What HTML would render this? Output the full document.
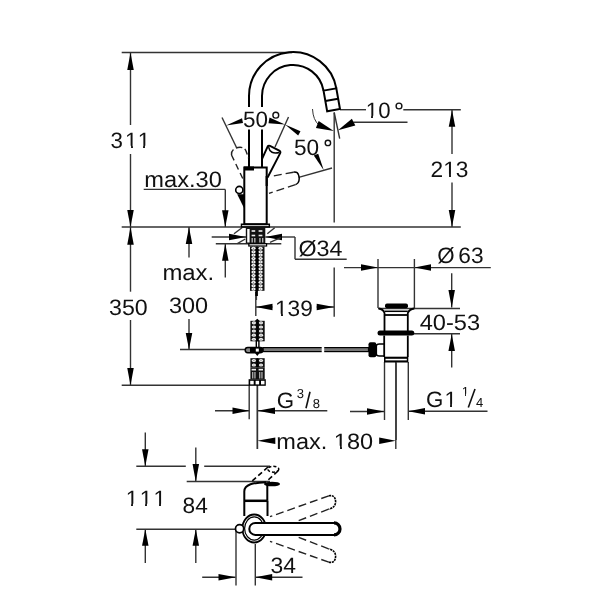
<!DOCTYPE html>
<html><head><meta charset="utf-8"><style>
html,body{margin:0;padding:0;background:#fff;width:600px;height:600px;overflow:hidden}
svg{display:block;will-change:transform;filter:blur(0.3px)}
text{font-family:"Liberation Sans",sans-serif;fill:#111;text-rendering:geometricPrecision}
</style></head><body>
<svg width="600" height="600" viewBox="0 0 600 600">
<line x1="121.7" y1="52.5" x2="292" y2="52.5" stroke="#333" stroke-width="1.4" />
<line x1="130.5" y1="52.5" x2="130.5" y2="125" stroke="#333" stroke-width="1.4" />
<polygon points="130.50,52.50 127.25,70.00 133.75,70.00" fill="#000"/>
<text x="110.6" y="148.1" font-size="22.3" textLength="39.45" lengthAdjust="spacing">311</text>
<line x1="130.5" y1="154" x2="130.5" y2="227" stroke="#333" stroke-width="1.4" />
<polygon points="130.50,227.00 133.75,210.00 127.25,210.00" fill="#000"/>
<line x1="121.7" y1="227" x2="460.8" y2="227" stroke="#333" stroke-width="1.4" />
<line x1="130.5" y1="227" x2="130.5" y2="291.7" stroke="#333" stroke-width="1.4" />
<polygon points="130.50,227.00 127.25,244.70 133.75,244.70" fill="#000"/>
<text x="109.0" y="314.8" font-size="22.3" textLength="38.69" lengthAdjust="spacingAndGlyphs">350</text>
<line x1="130.5" y1="320" x2="130.5" y2="385.3" stroke="#333" stroke-width="1.4" />
<polygon points="130.50,385.30 133.75,368.00 127.25,368.00" fill="#000"/>
<line x1="121.7" y1="385.3" x2="249" y2="385.3" stroke="#333" stroke-width="1.4" />
<line x1="189" y1="227" x2="189" y2="257.5" stroke="#333" stroke-width="1.4" />
<polygon points="189.00,227.00 185.75,244.00 192.25,244.00" fill="#000"/>
<text x="162.4" y="279.9" font-size="22.3" textLength="51.84" lengthAdjust="spacingAndGlyphs">max.</text>
<text x="168.9" y="313.1" font-size="22.3" textLength="39.12" lengthAdjust="spacingAndGlyphs">300</text>
<line x1="189" y1="319" x2="189" y2="349.5" stroke="#333" stroke-width="1.4" />
<polygon points="189.00,349.50 192.25,333.00 185.75,333.00" fill="#000"/>
<line x1="180" y1="349.5" x2="245" y2="349.5" stroke="#333" stroke-width="1.4" />
<text x="144.3" y="187.3" font-size="22.3" textLength="77.51" lengthAdjust="spacingAndGlyphs">max.30</text>
<line x1="143.7" y1="189.4" x2="225.3" y2="189.4" stroke="#333" stroke-width="1.4" />
<line x1="225.3" y1="189.4" x2="225.3" y2="227" stroke="#333" stroke-width="1.4" />
<polygon points="225.30,227.00 228.55,210.30 222.05,210.30" fill="#000"/>
<line x1="225.3" y1="243.7" x2="225.3" y2="277.5" stroke="#333" stroke-width="1.4" />
<polygon points="225.30,243.70 222.05,260.80 228.55,260.80" fill="#000"/>
<line x1="211.7" y1="237" x2="246" y2="237" stroke="#333" stroke-width="1.4" />
<polygon points="246.00,237.00 229.00,233.75 229.00,240.25" fill="#000"/>
<line x1="265.3" y1="237" x2="295" y2="237" stroke="#333" stroke-width="1.4" />
<polygon points="265.30,237.00 282.00,240.25 282.00,233.75" fill="#000"/>
<line x1="295" y1="237" x2="295" y2="259.2" stroke="#333" stroke-width="1.4" />
<line x1="295" y1="259.2" x2="346.7" y2="259.2" stroke="#333" stroke-width="1.4" />
<text x="298.5" y="255.6" font-size="22.3" textLength="44.01" lengthAdjust="spacingAndGlyphs">Ø34</text>
<line x1="215.8" y1="243.7" x2="281.3" y2="243.7" stroke="#333" stroke-width="1.4" />
<line x1="234" y1="233.7" x2="242" y2="227.7" stroke="#333" stroke-width="1.4" />
<line x1="237.3" y1="243.7" x2="245.3" y2="239" stroke="#333" stroke-width="1.4" />
<line x1="267.3" y1="233.7" x2="274.7" y2="227.7" stroke="#333" stroke-width="1.4" />
<line x1="270" y1="242.3" x2="280.7" y2="237.7" stroke="#333" stroke-width="1.4" />
<line x1="255.8" y1="292" x2="255.8" y2="316" stroke="#333" stroke-width="1.4" />
<line x1="334.2" y1="267.5" x2="334.2" y2="316.7" stroke="#333" stroke-width="1.4" />
<line x1="255.8" y1="307" x2="272.5" y2="307" stroke="#333" stroke-width="1.4" />
<line x1="316.7" y1="307" x2="334.2" y2="307" stroke="#333" stroke-width="1.4" />
<polygon points="255.80,307.00 272.50,310.25 272.50,303.75" fill="#000"/>
<polygon points="334.20,307.00 316.70,303.75 316.70,310.25" fill="#000"/>
<text x="275.0" y="315.6" font-size="22.3" textLength="37.86" lengthAdjust="spacingAndGlyphs">139</text>
<line x1="334.2" y1="112.5" x2="334.2" y2="222.5" stroke="#333" stroke-width="1.4" />
<line x1="334.2" y1="112.5" x2="339.7" y2="138.7" stroke="#333" stroke-width="1.4" />
<line x1="340" y1="109.7" x2="366" y2="109.7" stroke="#333" stroke-width="1.4" />
<line x1="403.3" y1="109.7" x2="460.8" y2="109.7" stroke="#333" stroke-width="1.4" />
<text x="365.8" y="117.8" font-size="22.3" textLength="24.7" lengthAdjust="spacingAndGlyphs">10</text>
<circle cx="399" cy="106" r="2.9" fill="none" stroke="#111" stroke-width="1.4"/>
<path d="M312.5,109 Q313,120 319,125" stroke="#333" stroke-width="1" fill="none" />
<polygon points="333.80,131.00 318.66,121.10 315.94,128.10" fill="#000"/>
<line x1="353.3" y1="122.2" x2="407.5" y2="122.2" stroke="#333" stroke-width="1.4" />
<polygon points="338.00,130.20 355.31,125.54 351.89,118.86" fill="#000"/>
<line x1="452" y1="110" x2="452" y2="154" stroke="#333" stroke-width="1.4" />
<polygon points="452.00,110.00 448.75,126.70 455.25,126.70" fill="#000"/>
<text x="430.6" y="176.5" font-size="22.3" textLength="37.84" lengthAdjust="spacingAndGlyphs">213</text>
<line x1="452" y1="182.5" x2="452" y2="227" stroke="#333" stroke-width="1.4" />
<polygon points="452.00,227.00 455.25,210.00 448.75,210.00" fill="#000"/>
<text x="437.25" y="263.1" font-size="22.3" >Ø</text>
<text x="458.3" y="263.1" font-size="22.3" textLength="25.24" lengthAdjust="spacingAndGlyphs">63</text>
<line x1="344" y1="267.6" x2="490.8" y2="267.6" stroke="#333" stroke-width="1.4" />
<polygon points="378.00,267.60 361.00,264.35 361.00,270.85" fill="#000"/>
<polygon points="414.40,267.60 431.00,270.85 431.00,264.35" fill="#000"/>
<line x1="378" y1="259" x2="378" y2="308" stroke="#333" stroke-width="1.4" />
<line x1="414.4" y1="259" x2="414.4" y2="308" stroke="#333" stroke-width="1.4" />
<line x1="451.7" y1="273.3" x2="451.7" y2="307.5" stroke="#333" stroke-width="1.4" />
<polygon points="451.70,307.50 454.95,290.00 448.45,290.00" fill="#000"/>
<line x1="378" y1="308.5" x2="460" y2="308.5" stroke="#333" stroke-width="1.4" />
<text x="419.7" y="329.5" font-size="22.3" textLength="60.35" lengthAdjust="spacingAndGlyphs">40-53</text>
<line x1="414" y1="333.8" x2="460" y2="333.8" stroke="#333" stroke-width="1.4" />
<line x1="451.7" y1="334" x2="451.7" y2="367.5" stroke="#333" stroke-width="1.4" />
<polygon points="451.70,334.00 448.45,351.00 454.95,351.00" fill="#000"/>
<text x="426.0" y="406.5" font-size="22.3" textLength="30.95" lengthAdjust="spacing">G1</text>
<text x="461.75" y="395.6" font-size="13" >1</text>
<line x1="468.3" y1="407.5" x2="475" y2="389" stroke="#111" stroke-width="1.6" />
<text x="476.05" y="406.5" font-size="13" >4</text>
<line x1="408.3" y1="411.3" x2="487.5" y2="411.3" stroke="#333" stroke-width="1.4" />
<polygon points="408.30,411.30 425.00,414.55 425.00,408.05" fill="#000"/>
<line x1="350" y1="411.5" x2="384.5" y2="411.5" stroke="#333" stroke-width="1.4" />
<polygon points="384.50,411.50 367.00,408.25 367.00,414.75" fill="#000"/>
<line x1="384.5" y1="362" x2="384.5" y2="420" stroke="#333" stroke-width="1.4" />
<line x1="408.3" y1="362" x2="408.3" y2="420" stroke="#333" stroke-width="1.4" />
<line x1="257.3" y1="385" x2="257.3" y2="449" stroke="#333" stroke-width="1.4" />
<polygon points="257.30,440.70 275.30,443.95 275.30,437.45" fill="#000"/>
<text x="276.3" y="448.5" font-size="22.3" textLength="96.77" lengthAdjust="spacingAndGlyphs">max. 180</text>
<polygon points="395.80,440.70 379.20,437.45 379.20,443.95" fill="#000"/>
<line x1="395.8" y1="362" x2="395.8" y2="449" stroke="#333" stroke-width="1.4" />
<text x="276.85" y="407.5" font-size="22.3" >G</text>
<text x="296.65" y="397.5" font-size="13" >3</text>
<line x1="306" y1="408.3" x2="310" y2="391.7" stroke="#111" stroke-width="1.6" />
<text x="312.7" y="408.1" font-size="13" >8</text>
<line x1="215" y1="410.8" x2="249.2" y2="410.8" stroke="#333" stroke-width="1.4" />
<polygon points="249.20,410.80 232.50,407.55 232.50,414.05" fill="#000"/>
<line x1="257.5" y1="410.8" x2="327.3" y2="410.8" stroke="#333" stroke-width="1.4" />
<polygon points="257.50,410.80 275.00,414.05 275.00,407.55" fill="#000"/>
<line x1="249.2" y1="385" x2="249.2" y2="419.2" stroke="#333" stroke-width="1.4" />
<line x1="257.5" y1="385" x2="257.5" y2="449" stroke="#333" stroke-width="1.4" />
<line x1="145.3" y1="432.5" x2="145.3" y2="466.3" stroke="#333" stroke-width="1.4" />
<polygon points="145.30,466.30 148.55,449.20 142.05,449.20" fill="#000"/>
<text x="125.8" y="505.6" font-size="22.3" textLength="40.06" lengthAdjust="spacing">111</text>
<line x1="145.3" y1="529.2" x2="145.3" y2="563" stroke="#333" stroke-width="1.4" />
<polygon points="145.30,529.20 142.05,545.80 148.55,545.80" fill="#000"/>
<line x1="136.3" y1="466.3" x2="185.8" y2="466.3" stroke="#333" stroke-width="1.4" />
<line x1="204.2" y1="466.3" x2="270" y2="466.3" stroke="#333" stroke-width="1.4" />
<line x1="195.8" y1="447.5" x2="195.8" y2="481.7" stroke="#333" stroke-width="1.4" />
<polygon points="195.80,481.70 199.05,464.00 192.55,464.00" fill="#000"/>
<text x="182.6" y="513.1" font-size="22.3" textLength="25.24" lengthAdjust="spacingAndGlyphs">84</text>
<line x1="195.8" y1="529.2" x2="195.8" y2="563" stroke="#333" stroke-width="1.4" />
<polygon points="195.80,529.20 192.55,545.80 199.05,545.80" fill="#000"/>
<line x1="186.7" y1="481.5" x2="270" y2="481.5" stroke="#333" stroke-width="1.4" />
<line x1="136.3" y1="529.2" x2="236" y2="529.2" stroke="#333" stroke-width="1.4" />
<line x1="202.2" y1="577.3" x2="235.5" y2="577.3" stroke="#333" stroke-width="1.4" />
<polygon points="235.80,577.30 218.50,574.05 218.50,580.55" fill="#000"/>
<line x1="255.1" y1="577.3" x2="302.5" y2="577.3" stroke="#333" stroke-width="1.4" />
<polygon points="255.30,577.30 272.20,580.55 272.20,574.05" fill="#000"/>
<line x1="236" y1="529" x2="236" y2="585.5" stroke="#333" stroke-width="1.4" />
<line x1="255.3" y1="544" x2="255.3" y2="585.5" stroke="#333" stroke-width="1.4" />
<text x="270.6" y="572.5" font-size="22.3" textLength="25.46" lengthAdjust="spacingAndGlyphs">34</text>
<path d="M249,107 V96 A44,44 0 0 1 336.33,88.36" stroke="#000" stroke-width="2" fill="none" />
<path d="M262,107 V96 A31,31 0 0 1 323.53,90.62" stroke="#000" stroke-width="2" fill="none" />
<line x1="249" y1="129.5" x2="249" y2="167.5" stroke="#000" stroke-width="2" />
<line x1="262" y1="129.5" x2="262" y2="167.5" stroke="#000" stroke-width="2" />
<path d="M323.53,90.62 L336.33,88.36 L339.98,109.04 L327.18,111.30 Z" stroke="#000" stroke-width="2" fill="none" />
<line x1="325.35" y1="100.96" x2="338.15" y2="98.70" stroke="#000" stroke-width="2" />
<path d="M244.3,167.5 H266.7 V224.3 H244.3 Z" stroke="#000" stroke-width="2" fill="none" />
<rect x="244" y="166.5" width="10" height="4" fill="#000"/>
<path d="M241.5,224.3 H269.3 V227 H241.5 Z" stroke="#000" stroke-width="1.5" fill="none" />
<line x1="222" y1="117.5" x2="236.5" y2="147.5" stroke="#333" stroke-width="1.4" />
<polygon points="226.00,125.50 242.00,118.30 243.00,123.00" fill="#000"/>
<text x="243.05" y="127.3" font-size="22.3" textLength="24.97" lengthAdjust="spacingAndGlyphs">50</text>
<circle cx="275.8" cy="115.2" r="2.9" fill="none" stroke="#111" stroke-width="1.4"/>
<line x1="288.5" y1="117" x2="275" y2="147" stroke="#333" stroke-width="1.4" />
<polygon points="285.00,124.50 269.50,117.50 268.50,123.20" fill="#000"/>
<polygon points="285.00,124.50 300.50,131.30 298.20,135.50" fill="#000"/>
<text x="293.9" y="154.9" font-size="22.3" textLength="25.14" lengthAdjust="spacingAndGlyphs">50</text>
<circle cx="327.9" cy="142.9" r="2.7" fill="none" stroke="#111" stroke-width="1.4"/>
<polygon points="323.80,170.30 313.80,155.50 318.20,153.80" fill="#000"/>
<line x1="298.7" y1="177.3" x2="332" y2="168" stroke="#333" stroke-width="1.4" />
<circle cx="239.3" cy="190" r="3.6" fill="#fff" stroke="#000" stroke-width="1.6"/>
<polygon points="237.20,194.20 244.50,194.20 244.50,209.00" fill="#000"/>
<path d="M262,159 L267.6,146.6 Q268.3,145.4 270,145.9 L278.8,150.3 Q281,151.4 280.2,153.2 L267.6,177.5" stroke="#000" stroke-width="1.9" fill="none" />
<path d="M268.6,147.2 Q270,154.6 279.4,152.4" stroke="#000" stroke-width="1.5" fill="none" />
<path d="M265.6,176 L267.8,176 L267.8,186 L265.6,186 Z" fill="#000"/>
<path d="M231.5,155 Q231,149 238,147.5 Q244,146.5 246,151 L248.5,158" stroke="#222" stroke-width="1.4" fill="none" stroke-dasharray="6,3"/>
<path d="M231.5,155 L243,179" stroke="#222" stroke-width="1.4" fill="none" stroke-dasharray="6,4"/>
<path d="M293.5,172.2 L270,176.6" stroke="#222" stroke-width="1.4" fill="none" stroke-dasharray="8,4"/>
<path d="M293.5,172.2 Q297.5,171.6 298.6,175 Q299.5,177.5 299,180.5 Q298.6,183.3 295.5,184.6" stroke="#000" stroke-width="1.5" fill="none" />
<path d="M295.5,184.6 L269,193.3" stroke="#222" stroke-width="1.4" fill="none" stroke-dasharray="8,4"/>
<rect x="385" y="303.5" width="23" height="4.8" rx="2" fill="#000"/>
<path d="M378.7,308.5 Q383,309 384.5,313 V331" stroke="#000" stroke-width="1.8" fill="none" />
<path d="M414.3,308.5 Q409.5,309 407.8,313 V331" stroke="#000" stroke-width="1.8" fill="none" />
<line x1="384.5" y1="311.3" x2="407.8" y2="311.3" stroke="#000" stroke-width="1.5" />
<line x1="384.5" y1="315" x2="407.8" y2="315" stroke="#000" stroke-width="1.8" />
<rect x="377.5" y="330.6" width="36.8" height="5" rx="2.5" fill="#000"/>
<path d="M384.2,335.6 V357 M407.8,335.6 V357" stroke="#000" stroke-width="1.8" fill="none" />
<rect x="384" y="356.7" width="24.3" height="5.8" fill="#000"/>
<rect x="385.5" y="358.8" width="21.3" height="1.6" fill="#fff"/>
<path d="M385,344 H379.5 Q376.3,344 376.3,346 V354 Q376.3,356 379.5,356 H385" stroke="#000" stroke-width="1.6" fill="none" />
<rect x="368.5" y="342.3" width="7.8" height="15" rx="2" fill="#000"/>
<rect x="263" y="347.6" width="105.5" height="4" fill="#777" stroke="#000" stroke-width="1.2"/>
<rect x="321.7" y="346" width="2.5" height="7" fill="#fff"/>
<line x1="396.3" y1="362" x2="396.3" y2="440" stroke="#333" stroke-width="1" />
<rect x="245.8" y="227" width="19.5" height="16.5" fill="#111"/>
<rect x="247.2" y="229" width="2.4" height="13.5" fill="#fff"/>
<rect x="251.6" y="230.2" width="3.6" height="1.6" fill="#eee"/>
<rect x="258.6" y="230.2" width="3.8" height="1.6" fill="#eee"/>
<rect x="251.6" y="234.7" width="3.6" height="1.6" fill="#eee"/>
<rect x="258.6" y="234.7" width="3.8" height="1.6" fill="#eee"/>
<rect x="251.6" y="238" width="1.1" height="4.5" fill="#ddd"/>
<rect x="254.3" y="238" width="1.1" height="4.5" fill="#ddd"/>
<rect x="259.4" y="238" width="1.1" height="4.5" fill="#ddd"/>
<rect x="262.2" y="238" width="1.1" height="4.5" fill="#ddd"/>
<rect x="248.2" y="243.2" width="19" height="3.4" fill="#000"/>
<rect x="249.5" y="244.3" width="16.5" height="1.1" fill="#fff"/>
<rect x="250.0" y="246.6" width="14.5" height="44.20000000000002" fill="#111"/>
<ellipse cx="253.50" cy="248.30" rx="2.1" ry="1.55" fill="#f2f2f2"/>
<circle cx="253.50" cy="248.30" r="0.55" fill="#666"/>
<ellipse cx="260.60" cy="248.30" rx="2.1" ry="1.55" fill="#f2f2f2"/>
<circle cx="260.60" cy="248.30" r="0.55" fill="#666"/>
<ellipse cx="253.50" cy="251.70" rx="2.1" ry="1.55" fill="#f2f2f2"/>
<circle cx="253.50" cy="251.70" r="0.55" fill="#666"/>
<ellipse cx="260.60" cy="251.70" rx="2.1" ry="1.55" fill="#f2f2f2"/>
<circle cx="260.60" cy="251.70" r="0.55" fill="#666"/>
<ellipse cx="253.50" cy="255.10" rx="2.1" ry="1.55" fill="#f2f2f2"/>
<circle cx="253.50" cy="255.10" r="0.55" fill="#666"/>
<ellipse cx="260.60" cy="255.10" rx="2.1" ry="1.55" fill="#f2f2f2"/>
<circle cx="260.60" cy="255.10" r="0.55" fill="#666"/>
<ellipse cx="253.50" cy="258.50" rx="2.1" ry="1.55" fill="#f2f2f2"/>
<circle cx="253.50" cy="258.50" r="0.55" fill="#666"/>
<ellipse cx="260.60" cy="258.50" rx="2.1" ry="1.55" fill="#f2f2f2"/>
<circle cx="260.60" cy="258.50" r="0.55" fill="#666"/>
<ellipse cx="253.50" cy="261.90" rx="2.1" ry="1.55" fill="#f2f2f2"/>
<circle cx="253.50" cy="261.90" r="0.55" fill="#666"/>
<ellipse cx="260.60" cy="261.90" rx="2.1" ry="1.55" fill="#f2f2f2"/>
<circle cx="260.60" cy="261.90" r="0.55" fill="#666"/>
<ellipse cx="253.50" cy="265.30" rx="2.1" ry="1.55" fill="#f2f2f2"/>
<circle cx="253.50" cy="265.30" r="0.55" fill="#666"/>
<ellipse cx="260.60" cy="265.30" rx="2.1" ry="1.55" fill="#f2f2f2"/>
<circle cx="260.60" cy="265.30" r="0.55" fill="#666"/>
<ellipse cx="253.50" cy="268.70" rx="2.1" ry="1.55" fill="#f2f2f2"/>
<circle cx="253.50" cy="268.70" r="0.55" fill="#666"/>
<ellipse cx="260.60" cy="268.70" rx="2.1" ry="1.55" fill="#f2f2f2"/>
<circle cx="260.60" cy="268.70" r="0.55" fill="#666"/>
<ellipse cx="253.50" cy="272.10" rx="2.1" ry="1.55" fill="#f2f2f2"/>
<circle cx="253.50" cy="272.10" r="0.55" fill="#666"/>
<ellipse cx="260.60" cy="272.10" rx="2.1" ry="1.55" fill="#f2f2f2"/>
<circle cx="260.60" cy="272.10" r="0.55" fill="#666"/>
<ellipse cx="253.50" cy="275.50" rx="2.1" ry="1.55" fill="#f2f2f2"/>
<circle cx="253.50" cy="275.50" r="0.55" fill="#666"/>
<ellipse cx="260.60" cy="275.50" rx="2.1" ry="1.55" fill="#f2f2f2"/>
<circle cx="260.60" cy="275.50" r="0.55" fill="#666"/>
<ellipse cx="253.50" cy="278.90" rx="2.1" ry="1.55" fill="#f2f2f2"/>
<circle cx="253.50" cy="278.90" r="0.55" fill="#666"/>
<ellipse cx="260.60" cy="278.90" rx="2.1" ry="1.55" fill="#f2f2f2"/>
<circle cx="260.60" cy="278.90" r="0.55" fill="#666"/>
<ellipse cx="253.50" cy="282.30" rx="2.1" ry="1.55" fill="#f2f2f2"/>
<circle cx="253.50" cy="282.30" r="0.55" fill="#666"/>
<ellipse cx="260.60" cy="282.30" rx="2.1" ry="1.55" fill="#f2f2f2"/>
<circle cx="260.60" cy="282.30" r="0.55" fill="#666"/>
<ellipse cx="253.50" cy="285.70" rx="2.1" ry="1.55" fill="#f2f2f2"/>
<circle cx="253.50" cy="285.70" r="0.55" fill="#666"/>
<ellipse cx="260.60" cy="285.70" rx="2.1" ry="1.55" fill="#f2f2f2"/>
<circle cx="260.60" cy="285.70" r="0.55" fill="#666"/>
<ellipse cx="253.50" cy="289.10" rx="2.1" ry="1.55" fill="#f2f2f2"/>
<circle cx="253.50" cy="289.10" r="0.55" fill="#666"/>
<ellipse cx="260.60" cy="289.10" rx="2.1" ry="1.55" fill="#f2f2f2"/>
<circle cx="260.60" cy="289.10" r="0.55" fill="#666"/>
<rect x="256.00" y="246.6" width="2.0" height="44.20000000000002" fill="#000"/>
<rect x="255.3" y="290" width="2.6" height="6" fill="#000"/>
<line x1="256.6" y1="296" x2="256.6" y2="300" stroke="#333" stroke-width="1" />
<rect x="250.4" y="320.8" width="14.299999999999983" height="20.5" fill="#111"/>
<ellipse cx="253.90" cy="322.85" rx="2.1" ry="1.55" fill="#f2f2f2"/>
<circle cx="253.90" cy="322.85" r="0.55" fill="#666"/>
<ellipse cx="261.00" cy="322.85" rx="2.1" ry="1.55" fill="#f2f2f2"/>
<circle cx="261.00" cy="322.85" r="0.55" fill="#666"/>
<ellipse cx="253.90" cy="326.95" rx="2.1" ry="1.55" fill="#f2f2f2"/>
<circle cx="253.90" cy="326.95" r="0.55" fill="#666"/>
<ellipse cx="261.00" cy="326.95" rx="2.1" ry="1.55" fill="#f2f2f2"/>
<circle cx="261.00" cy="326.95" r="0.55" fill="#666"/>
<ellipse cx="253.90" cy="331.05" rx="2.1" ry="1.55" fill="#f2f2f2"/>
<circle cx="253.90" cy="331.05" r="0.55" fill="#666"/>
<ellipse cx="261.00" cy="331.05" rx="2.1" ry="1.55" fill="#f2f2f2"/>
<circle cx="261.00" cy="331.05" r="0.55" fill="#666"/>
<ellipse cx="253.90" cy="335.15" rx="2.1" ry="1.55" fill="#f2f2f2"/>
<circle cx="253.90" cy="335.15" r="0.55" fill="#666"/>
<ellipse cx="261.00" cy="335.15" rx="2.1" ry="1.55" fill="#f2f2f2"/>
<circle cx="261.00" cy="335.15" r="0.55" fill="#666"/>
<ellipse cx="253.90" cy="339.25" rx="2.1" ry="1.55" fill="#f2f2f2"/>
<circle cx="253.90" cy="339.25" r="0.55" fill="#666"/>
<ellipse cx="261.00" cy="339.25" rx="2.1" ry="1.55" fill="#f2f2f2"/>
<circle cx="261.00" cy="339.25" r="0.55" fill="#666"/>
<rect x="256.40" y="320.8" width="2.0" height="20.5" fill="#000"/>
<path d="M254.8,321 L257.3,318.8 L259.8,321 Z" fill="#000"/>
<rect x="255.6" y="341" width="4" height="7" fill="#000"/><rect x="257" y="341.5" width="1.2" height="5.5" fill="#fff"/>
<rect x="245.2" y="347.5" width="17.6" height="5.2" rx="2.6" fill="#888" stroke="#000" stroke-width="1.5"/><rect x="250" y="347.5" width="12.5" height="5.2" fill="#000"/>
<rect x="255.8" y="348.6" width="3" height="3" fill="#fff"/>
<path d="M255,353 L257.3,356 L259.6,353 Z" fill="#000"/>
<rect x="250.4" y="358.2" width="14.299999999999983" height="9.100000000000023" fill="#111"/>
<ellipse cx="253.90" cy="360.48" rx="2.1" ry="1.55" fill="#f2f2f2"/>
<circle cx="253.90" cy="360.48" r="0.55" fill="#666"/>
<ellipse cx="261.00" cy="360.48" rx="2.1" ry="1.55" fill="#f2f2f2"/>
<circle cx="261.00" cy="360.48" r="0.55" fill="#666"/>
<ellipse cx="253.90" cy="365.02" rx="2.1" ry="1.55" fill="#f2f2f2"/>
<circle cx="253.90" cy="365.02" r="0.55" fill="#666"/>
<ellipse cx="261.00" cy="365.02" rx="2.1" ry="1.55" fill="#f2f2f2"/>
<circle cx="261.00" cy="365.02" r="0.55" fill="#666"/>
<rect x="256.40" y="358.2" width="2.0" height="9.100000000000023" fill="#000"/>
<rect x="250.4" y="367.3" width="14.3" height="11.8" fill="#111"/>
<rect x="251.6" y="368.8" width="4.4" height="1.7" fill="#eee"/>
<rect x="258.6" y="368.8" width="4.4" height="1.7" fill="#eee"/>
<rect x="252.2" y="372" width="1.1" height="6.5" fill="#ccc"/>
<rect x="254.4" y="372" width="1.1" height="6.5" fill="#ccc"/>
<rect x="259.2" y="372" width="1.1" height="6.5" fill="#ccc"/>
<rect x="261.4" y="372" width="1.1" height="6.5" fill="#ccc"/>
<rect x="248.6" y="379.2" width="17.2" height="6.6" fill="#000"/>
<rect x="250.2" y="380.8" width="3.5" height="3.6" fill="#fff"/>
<rect x="255.6" y="380.8" width="3.5" height="3.6" fill="#fff"/>
<rect x="261.0" y="380.8" width="3.5" height="3.6" fill="#fff"/>
<path d="M244.3,516 V491.5 Q244.3,486.5 250.5,484.3 Q256,482.6 266,482.3" stroke="#000" stroke-width="2" fill="none" />
<ellipse cx="272" cy="484" rx="8" ry="2.3" fill="#000"/>
<ellipse cx="273.3" cy="469.2" rx="5.5" ry="3" fill="none" stroke="#000" stroke-width="1.5" stroke-dasharray="3,2"/>
<path d="M268,467 L251,482 M278,471 L267,481" stroke="#000" stroke-width="1.6" fill="none" stroke-dasharray="5,3"/>
<path d="M267.3,484 V500.8" stroke="#000" stroke-width="2" fill="none" />
<line x1="244.3" y1="500.8" x2="267.5" y2="500.8" stroke="#000" stroke-width="2.5" />
<path d="M267.5,500.8 V516" stroke="#000" stroke-width="2" fill="none" />
<ellipse cx="254.2" cy="528.5" rx="11.8" ry="14" fill="#fff" stroke="#000" stroke-width="1.8"/>
<ellipse cx="254.2" cy="528.5" rx="9.6" ry="11.6" fill="none" stroke="#000" stroke-width="1.2"/>
<path d="M334,522.9 H255.3 A6,6 0 0 0 255.3,534.9 H334 A6,6 0 0 0 334,522.9 Z" stroke="#000" stroke-width="2" fill="#fff" />
<path d="M334,522.9 A6,6 0 0 1 334,534.9" stroke="#000" stroke-width="3.2" fill="none" />
<circle cx="239.6" cy="528.8" r="4.1" fill="#fff" stroke="#000" stroke-width="1.7"/>
<path d="M328.8,495.8 L270,516.7" stroke="#222" stroke-width="1.4" fill="none" stroke-dasharray="8,4"/>
<path d="M328.8,495.8 Q335.2,494.6 335.6,501.5 Q335.6,507.6 328.6,509.2" stroke="#000" stroke-width="1.6" fill="none" stroke-dasharray="2.2,0.8"/>
<path d="M328.6,509.2 L296,521.6" stroke="#222" stroke-width="1.4" fill="none" stroke-dasharray="8,4"/>
<path d="M328.8,562.2 L270,541.3" stroke="#222" stroke-width="1.4" fill="none" stroke-dasharray="8,4"/>
<path d="M328.8,562.2 Q335.2,563.4 335.6,556.5 Q335.6,550.4 328.6,548.8" stroke="#000" stroke-width="1.6" fill="none" stroke-dasharray="2.2,0.8"/>
<path d="M328.6,548.8 L296,536.4" stroke="#222" stroke-width="1.4" fill="none" stroke-dasharray="8,4"/>
<rect x="125.87" y="145.7" width="5.18" height="3.3" fill="#fff"/>
<rect x="132.95" y="145.7" width="5.13" height="3.3" fill="#fff"/>
<rect x="137.87" y="145.7" width="5.18" height="3.3" fill="#fff"/>
<rect x="144.95" y="145.7" width="5.13" height="3.3" fill="#fff"/>
<rect x="275.87" y="313.7" width="5.18" height="3.3" fill="#fff"/>
<rect x="282.95" y="313.7" width="5.13" height="3.3" fill="#fff"/>
<rect x="365.87" y="115.7" width="5.18" height="3.3" fill="#fff"/>
<rect x="372.95" y="115.7" width="5.13" height="3.3" fill="#fff"/>
<rect x="443.87" y="173.7" width="5.18" height="3.3" fill="#fff"/>
<rect x="450.95" y="173.7" width="5.13" height="3.3" fill="#fff"/>
<rect x="444.87" y="403.7" width="5.18" height="3.3" fill="#fff"/>
<rect x="451.95" y="403.7" width="5.13" height="3.3" fill="#fff"/>
<rect x="334.87" y="445.7" width="5.18" height="3.3" fill="#fff"/>
<rect x="341.95" y="445.7" width="5.13" height="3.3" fill="#fff"/>
<rect x="125.87" y="503.7" width="5.18" height="3.3" fill="#fff"/>
<rect x="132.95" y="503.7" width="5.13" height="3.3" fill="#fff"/>
<rect x="139.87" y="503.7" width="5.18" height="3.3" fill="#fff"/>
<rect x="146.95" y="503.7" width="5.13" height="3.3" fill="#fff"/>
<rect x="153.87" y="503.7" width="5.18" height="3.3" fill="#fff"/>
<rect x="160.95" y="503.7" width="5.13" height="3.3" fill="#fff"/>
<rect x="462.01" y="393.7" width="3.04" height="3.3" fill="#fff"/>
<rect x="465.95" y="393.7" width="2.99" height="3.3" fill="#fff"/>
</svg></body></html>
